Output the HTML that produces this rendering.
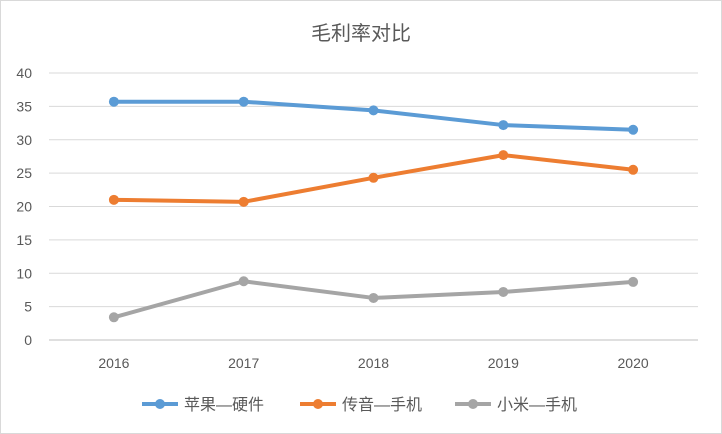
<!DOCTYPE html>
<html><head><meta charset="utf-8"><style>
body{margin:0;background:#fff;}
svg{display:block;font-family:"Liberation Sans","Noto Sans CJK SC",sans-serif;}
</style></head><body>
<svg id="chart" width="722" height="434">
<rect x="0.5" y="0.5" width="721" height="433" fill="#fff" stroke="#d9d9d9"/>
<text x="361" y="40" text-anchor="middle" font-size="20" fill="#595959">毛利率对比</text>
<g id="grid"></g><g id="yt"></g><g id="xt"></g><g id="series"></g><g id="legend"></g>
</svg>
<script>
const categories=["2016","2017","2018","2019","2020"];
const yTicks=[0,5,10,15,20,25,30,35,40];
const seriesNames=["苹果—硬件","传音—手机","小米—手机"];
const apple=[35.7,35.7,34.4,32.2,31.5];
const transsion=[21.0,20.7,24.3,27.7,25.5];
const xiaomi=[3.4,8.8,6.3,7.2,8.7];
const colors=["#5b9bd5","#ed7d31","#a5a5a5"];
const NS="http://www.w3.org/2000/svg";
const x0=49,x1=698,y0=340,y1=73;
const xs=i=>x0+(x1-x0)/categories.length*(i+0.5);
const ys=v=>y0-(y0-y1)*v/40;
function mk(t,a,p){const e=document.createElementNS(NS,t);for(const k in a)e.setAttribute(k,a[k]);p.appendChild(e);return e;}
const g=document.getElementById('grid'),yt=document.getElementById('yt'),xt=document.getElementById('xt');
yTicks.forEach(v=>{
 const l=mk('line',{x1:x0,x2:x1,y1:ys(v),y2:ys(v),stroke:v===0?'#bfbfbf':'#d9d9d9','stroke-width':1},g);
 
 
 const t=mk('text',{x:32,y:ys(v)+5,'text-anchor':'end','font-size':14,fill:'#595959'},yt);t.textContent=v;
 
 
});
categories.forEach((c,i)=>{
 const t=mk('text',{x:xs(i),y:368,'text-anchor':'middle','font-size':14,fill:'#595959'},xt);t.textContent=c;
 
 
});
const sg=document.getElementById('series');
[apple,transsion,xiaomi].forEach((d,s)=>{
 const p=mk('polyline',{points:d.map((v,i)=>xs(i)+','+ys(v)).join(' '),fill:'none',stroke:colors[s],'stroke-width':4,'stroke-linejoin':'round','stroke-linecap':'round'},sg);
 
 
 d.forEach((v,i)=>{const c=mk('circle',{cx:xs(i),cy:ys(v),r:5,fill:colors[s]},sg);
 
 });
});
const lg=document.getElementById('legend');
const lx=[142,300,455];
seriesNames.forEach((n,s)=>{
 const e=mk('g',{},lg);
 
 
 mk('line',{x1:lx[s],x2:lx[s]+36,y1:404,y2:404,stroke:colors[s],'stroke-width':4},e);
 mk('circle',{cx:lx[s]+18,cy:404,r:5,fill:colors[s]},e);
 const t=mk('text',{x:lx[s]+42,y:410,'font-size':16,fill:'#595959'},e);t.textContent=n;
});
</script>
</body></html>
